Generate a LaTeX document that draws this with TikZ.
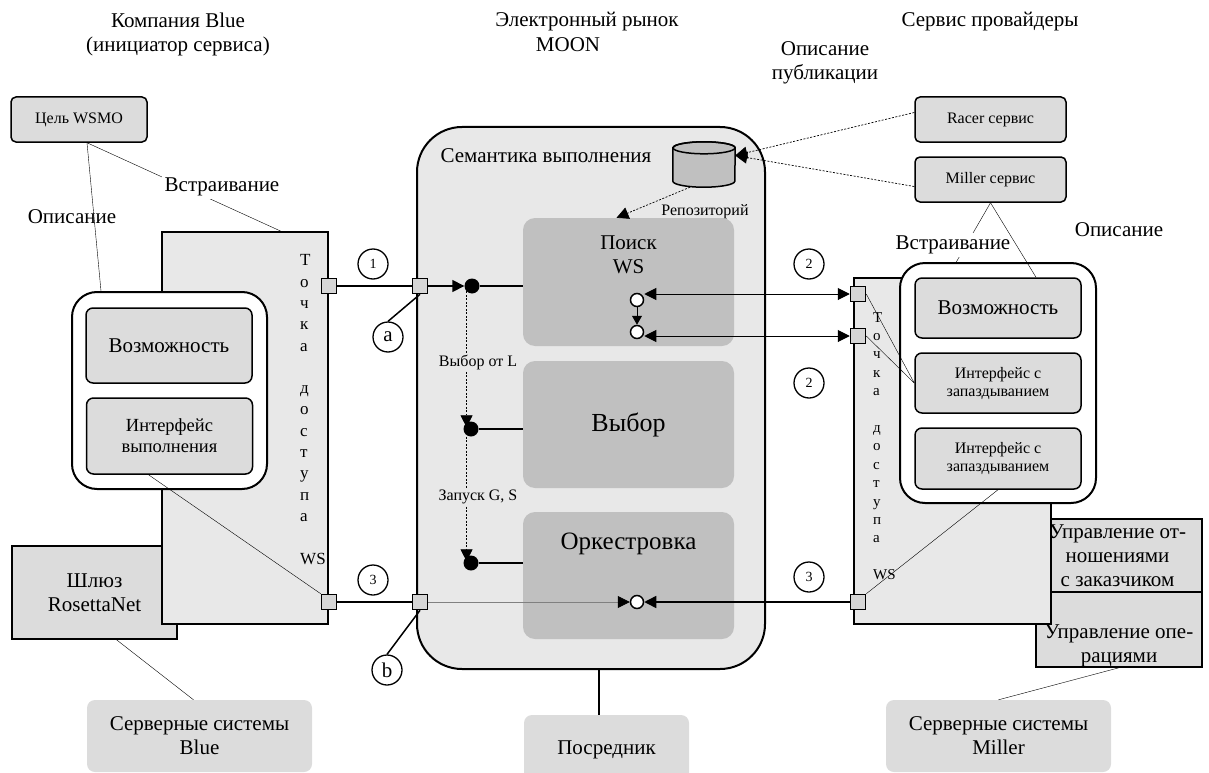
\documentclass[tikz,border=0pt]{standalone}
\usepackage{fontspec}
\setmainfont{Liberation Serif}
\usetikzlibrary{arrows.meta}
\definecolor{apfill}{HTML}{E8E8E8}
\definecolor{boxfill}{HTML}{DCDCDC}
\definecolor{stagefill}{HTML}{C0C0C0}
\definecolor{portfill}{HTML}{D6D6D6}
\begin{document}
\begin{tikzpicture}[x=1pt,y=-1pt,>={Triangle[length=12pt,width=12pt]},
    every node/.style={font=\fontsize{21}{24}\selectfont},
    smallfont/.style={font=\fontsize{16}{18}\selectfont},
    plain box/.style={draw,line width=1.5pt,fill=boxfill,inner sep=0pt,align=center},
    round box/.style={plain box,rounded corners=7pt},
    holder/.style={draw,line width=2pt,fill=white,rounded corners=25pt,inner sep=0pt},
    access/.style={draw,line width=1.5pt,fill=apfill,inner sep=0pt},
    stagebox/.style={fill=stagefill,rounded corners=12pt,inner sep=0pt,minimum width=211pt,minimum height=127pt,align=center},
    back box/.style={fill=boxfill,rounded corners=8pt,inner sep=0pt,align=center},
    port/.style={draw,line width=1.5pt,fill=portfill,minimum size=15pt,inner sep=0pt},
    numcirc/.style={circle,draw,line width=1.3pt,fill=white,minimum size=30pt,inner sep=0pt,font=\fontsize{14}{14}\selectfont},
    ball/.style={circle,fill=black,minimum size=15pt,inner sep=0pt},
    socket/.style={circle,draw,line width=1.5pt,fill=white,minimum size=13pt,inner sep=0pt},
    vtext/.style={align=left,anchor=west,inner sep=0pt},
    dots/.style={line width=0.7pt,dash pattern=on 2pt off 1.5pt}]
  \useasboundingbox (0,0) rectangle (1209,773);

  \node (hdrBlue) at (178,34) [align=center] {Компания Blue\\(инициатор сервиса)};
  \node (hdrMarket) at (587,22) {Электронный рынок};
  \node (hdrMoon) at (568,45) {MOON};
  \node (hdrProv) at (990,22) {Сервис провайдеры};
  \node (pubDesc) at (825,63) [align=center] {Описание\\публикации};

  \node[round box,smallfont,rounded corners=5pt,minimum width=136pt,minimum height=45pt] (goal) at (79,119.5) {Цель WSMO};
  \node[plain box,minimum width=165pt,minimum height=93pt] (gateway) at (94.5,592.5) {Шлюз\\RosettaNet};
  \node[access,minimum width=166pt,minimum height=392pt] (apL) at (245,428) {};
  \draw ([xshift=8pt]goal.south) -- ([xshift=36pt]apL.north);
  \node[fill=white,inner sep=3pt] (embL) at (222,187) {Встраивание};
  \node[vtext,font=\fontsize{17}{21.3}\selectfont] (apLtext) at (300,409.5) {Т\\о\\ч\\к\\а\\[21.3pt]д\\о\\с\\т\\у\\п\\а\\[21.3pt]WS};
  \node[holder,minimum width=195pt,minimum height=197pt] (contL) at (169.5,390.5) {};
  \node[round box,minimum width=166pt,minimum height=75pt] (capL) at (169,345.5) {Возможность};
  \node[round box,font=\fontsize{18.5}{21}\selectfont,minimum width=166pt,minimum height=76pt] (ifL) at (169.5,436) {Интерфейс\\выполнения};
  \draw ([xshift=8pt]goal.south) -- ([xshift=30pt]contL.north west);
  \node (descL) at (72,217) {Описание};
  \node[port] (portL1) at (329,286) {};
  \node[port] (portL3) at (329,602) {};
  \node[back box,minimum width=225pt,minimum height=72pt] (backBlue) at (199.5,736) {Серверные системы\\Blue};
  \draw ([xshift=22pt]gateway.south) -- ([xshift=-6pt]backBlue.north);
  \draw ([xshift=-21pt]ifL.south) -- (portL3.north west);

  \node[access,line width=2pt,rounded corners=45pt,minimum width=348pt,minimum height=542pt] (market) at (591,398) {};
  \node[anchor=west] (semLabel) at (437,156) {Семантика выполнения};
  \node[minimum width=62pt,minimum height=45pt,inner sep=0pt] (repo) at (704,164.5) {};
  \draw[line width=1.5pt,fill=stagefill] ([yshift=-6pt]repo.north west) -- ([yshift=6pt]repo.south west)
    arc[start angle=180,end angle=360,x radius=31pt,y radius=6pt] -- ([yshift=-6pt]repo.north east)
    arc[start angle=0,end angle=180,x radius=31pt,y radius=6pt] -- cycle;
  \draw[line width=1.5pt] ([yshift=-6pt]repo.north) ellipse [x radius=31pt,y radius=6pt];
  \node[smallfont] (repoLabel) at (705,212) {Репозиторий};
  \node[stagebox,minimum height=128pt,label={[anchor=north,yshift=-14pt,align=center]north:Поиск\\WS}] (search) at (628.5,282) {};
  \node[stagebox,font=\fontsize{26}{28}\selectfont] (select) at (628.5,424.5) {Выбор};
  \node[stagebox,label={[anchor=north,yshift=-18pt,font=\fontsize{25}{28}\selectfont]north:Оркестровка}] (orch) at (628.5,575.5) {};

  \node[port] (portM1) at (420,286) {};
  \node[port] (portM3) at (420,602) {};
  \node[numcirc] (circ1) at (373,264) {1};
  \node[numcirc,font=\fontsize{21}{21}\selectfont] (circA) at (388,337) {a};
  \node[numcirc] (circ3L) at (373,580) {3};
  \node[numcirc,font=\fontsize{21}{21}\selectfont] (circB) at (387,670) {b};
  \draw[line width=1.5pt] (portL1) -- (portM1);
  \draw[line width=1.5pt] (portL3) -- (portM3);
  \draw[line width=1.5pt] (portM1.south) -- (circA.north);
  \draw[line width=1.5pt] (portM3.south) -- (circB.north);

  \node[ball] (ballS) at (472,286) {};
  \node[ball] (ballV) at (471,429) {};
  \node[ball] (ballO) at (471,563) {};
  \draw[line width=1.5pt,->] (portM1) -- (ballS);
  \draw[line width=1.5pt] (ballS) -- (ballS -| search.west);
  \draw[line width=1.5pt] (ballV) -- (ballV -| select.west);
  \draw[line width=1.5pt] (ballO) -- (ballO -| orch.west);
  \draw[dots,->,shorten >=-6pt] (ballS.south west) -- (ballS.south west |- ballV.north);
  \draw[dots,->,shorten >=-6pt] (ballS.south west |- ballV.south) -- (ballS.south west |- ballO.north);
  \node[smallfont,fill=apfill,inner sep=2pt] (selLabel) at (478,362) {Выбор от L};
  \node[smallfont,fill=apfill,inner sep=2pt] (runLabel) at (478,497) {Запуск G, S};

  \node[socket] (sockA) at (637,300) {};
  \node[socket] (sockB) at (637,332) {};
  \node[socket] (sockO) at (637,602) {};
  \draw[line width=1pt,-{Triangle[length=9pt,width=10pt]}] (sockA) -- (sockB);
  \draw[-{Triangle[length=12pt,width=12pt,color=black]},line width=0.8pt,gray] (portM3) -- (sockO);

  \node[round box,smallfont,rounded corners=5pt,minimum width=151pt,minimum height=45pt] (racer) at (990.5,119.5) {Racer сервис};
  \node[round box,smallfont,rounded corners=5pt,minimum width=151pt,minimum height=45pt] (miller) at (990.5,179.5) {Miller сервис};
  \draw[dots,->] ([yshift=7pt]racer.west) -- ([yshift=9pt]repo.east);
  \draw[dots,->] ([yshift=-7pt]miller.west) -- ([yshift=9pt]repo.east);
  \draw[dots,->] ([xshift=-14pt]repo.south) -- ([xshift=-12pt]search.north);

  \node[plain box,minimum width=166pt,minimum height=75pt,label={[align=center,anchor=south,yshift=-3pt]south:Управление опе-\\рациями}] (ops) at (1119,629.5) {};
  \node[plain box,minimum width=151pt,minimum height=73pt,label={[align=center,xshift=-9pt]center:Управление от-\\ношениями\\с заказчиком}] (crm) at (1126.5,555.5) {};
  \node[access,minimum width=197pt,minimum height=346pt] (apR) at (952.5,451) {};
  \draw (miller.south) -- ([xshift=-5pt]apR.north);
  \node[vtext,font=\fontsize{15}{18.4}\selectfont] (apRtext) at (873,446) {Т\\о\\ч\\к\\а\\[18.4pt]д\\о\\с\\т\\у\\п\\а\\[18.4pt]WS};
  \node[holder,minimum width=196pt,minimum height=240pt] (contR) at (998,383) {};
  \node[round box,minimum width=166pt,minimum height=60pt] (capR) at (998,308) {Возможность};
  \node[round box,smallfont,minimum width=166pt,minimum height=60pt] (ifR1) at (998,383) {Интерфейс с\\запаздыванием};
  \node[round box,smallfont,minimum width=166pt,minimum height=61pt] (ifR2) at (998,458.5) {Интерфейс с\\запаздыванием};
  \node[fill=white,inner sep=3pt] (embR) at (953,245) {Встраивание};
  \draw (miller.south) -- ([xshift=38pt]capR.north);
  \node (descR) at (1119,230) {Описание};

  \node[port] (portR1) at (858,294) {};
  \node[port] (portR2) at (858,336) {};
  \node[port] (portR3) at (858,602) {};
  \draw[<->,line width=1pt] (sockA.east |- portR1) -- (portR1.west);
  \draw[<->,line width=1pt] (sockB.east |- portR2) -- (portR2.west);
  \draw[->,line width=1.5pt] (portR3) -- (sockO);
  \draw (portR1.east) -- (ifR1.west);
  \draw (portR2.east) -- (ifR1.west);
  \draw (ifR2.south) -- (portR3.north east);
  \node[numcirc] (circ2a) at (809,264) {2};
  \node[numcirc] (circ2b) at (809,383) {2};
  \node[numcirc] (circ3R) at (809,577) {3};

  \node[back box,minimum width=225pt,minimum height=72pt] (backMiller) at (998.5,736) {Серверные системы\\Miller};
  \draw (ops.south) -- (backMiller.north);
  \node[back box,minimum width=165pt,minimum height=70pt] (broker) at (606.5,750) {Посредник};
  \draw[line width=1.5pt] ([xshift=8pt]market.south) -- ([xshift=8pt]market.south |- broker.north);
\end{tikzpicture}
\end{document}
